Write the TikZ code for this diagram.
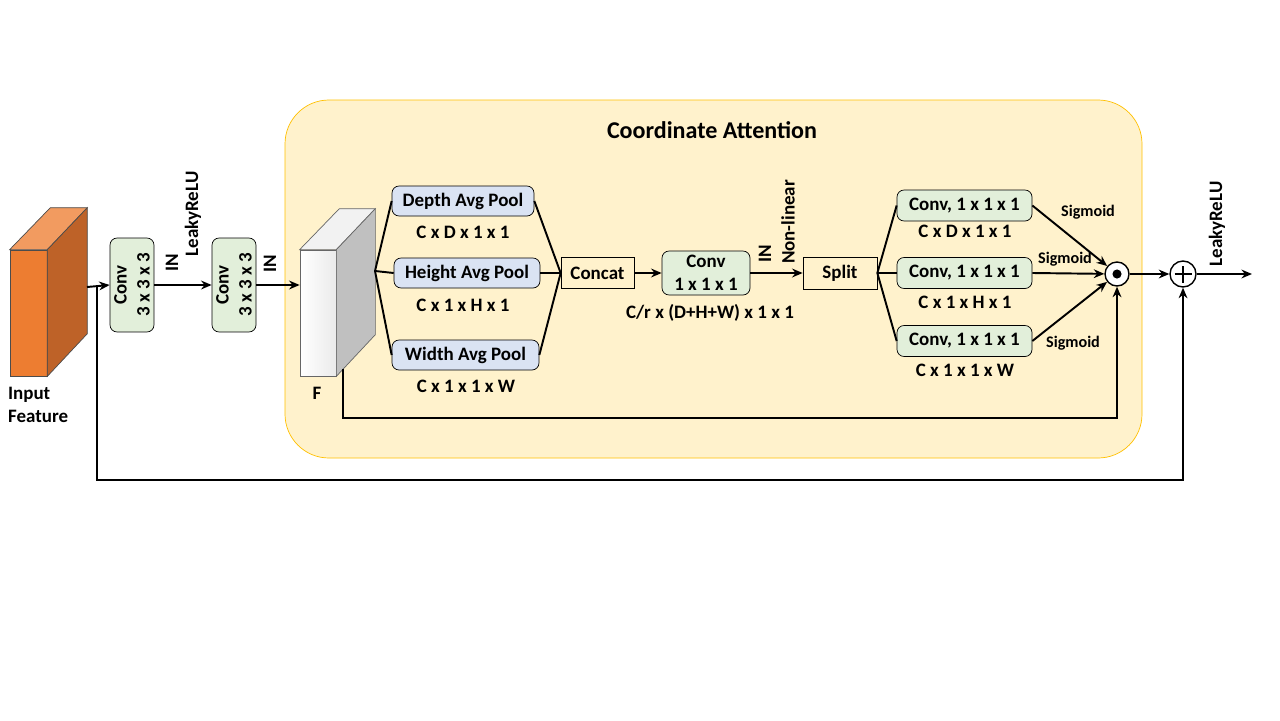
\documentclass[tikz,border=0pt]{standalone}
\usepackage{fontspec}
\setmainfont{Carlito}
\usetikzlibrary{positioning,calc,arrows.meta}
\definecolor{cabg}{HTML}{FFF2CC}
\definecolor{caedge}{HTML}{FFC000}
\definecolor{convgreen}{HTML}{E2EFDA}
\definecolor{poolblue}{HTML}{DAE3F3}
\definecolor{orfront}{HTML}{ED7D31}
\definecolor{ortop}{HTML}{F29B60}
\definecolor{orside}{HTML}{BE6228}
\definecolor{fside}{HTML}{C0C0C0}
\newcommand\PxUnit{0.02cm}
\newcommand\BodySize{\fontsize{10.8}{13}\selectfont}
\tikzset{
  convbox/.style={
    draw,
    rounded corners=4pt,
    fill=convgreen,
    font=\bfseries\BodySize,
    align=center,
    inner sep=1pt
  },
  poolbox/.style={
    draw,
    rounded corners=4pt,
    fill=poolblue,
    font=\bfseries\BodySize,
    inner sep=1pt
  },
  plainbox/.style={
    draw,
    fill=cabg,
    font=\bfseries\BodySize,
    inner sep=1pt
  },
  dims/.style={
    font=\bfseries\BodySize,
    inner sep=1pt
  },
  act/.style={
    font=\bfseries\BodySize,
    rotate=90,
    inner sep=1pt
  },
  sig/.style={
    font=\bfseries\fontsize{9.2}{11}\selectfont,
    inner sep=1pt
  },
  flow/.style={
    line width=1.1pt,
    -{Stealth[length=6pt,width=5pt]}
  },
  link/.style={
    line width=1.1pt
  },
  opcircle/.style={
    draw,
    circle,
    fill=white,
    line width=0.8pt,
    inner sep=0pt
  }
}

\begin{document}
\begin{tikzpicture}[x=\PxUnit,y=-\PxUnit]
    \useasboundingbox (0,0) rectangle (1280,720);

    % coordinate attention block
    \draw[caedge, fill=cabg, rounded corners=25pt] (285,100) rectangle (1142,458);
    \node[font=\bfseries\fontsize{13.7}{16}\selectfont] (title) at (712,130) {Coordinate Attention};

    % input feature cube
    \node[draw=black!70, fill=orfront, minimum width=0.74cm, minimum height=2.52cm, inner sep=0pt] (inp) at (28.5,313) {};
    \draw[black!70, fill=ortop] (inp.north west) -- (inp.north east) -- ++(40,-42) -- ++(-37,0) -- cycle;
    \draw[black!70, fill=orside] (inp.north east) -- ++(40,-42) -- ++(0,126) -- (inp.south east) -- cycle;
    \node[dims, anchor=west, align=left] (inplabel) at (6,405) {Input\\Feature};
    \coordinate (inpside) at (87,287);
    \coordinate (skip) at (97,287);

    \node[convbox, rotate=90, minimum width=1.88cm, minimum height=0.88cm] (conva) at (132,285) {Conv\\3 x 3 x 3};
    \node[convbox, rotate=90, minimum width=1.88cm, minimum height=0.88cm] (convb) at (234,285) {Conv\\3 x 3 x 3};
    \node[act] (ina) at (172,263) {IN};
    \node[act] (leakya) at (193,214) {LeakyReLU};
    \node[act] (inb) at (270,264) {IN};

    % feature map F
    \node[draw=black!60, left color=white, right color=black!8, minimum width=0.72cm, minimum height=2.52cm, inner sep=0pt] (fmap) at (318,313) {};
    \draw[black!60, fill=black!5] (fmap.north west) -- (fmap.north east) -- ++(39,-41) -- ++(-36,0) -- cycle;
    \draw[black!60, fill=fside] (fmap.north east) -- ++(39,-41) -- ++(0,126) -- (fmap.south east) -- cycle;
    \node[dims] (flabel) at (317,393) {F};
    \coordinate (fside) at (375,271);
    \coordinate (fres) at (343,369);

    % pooling branches
    \node[poolbox, minimum width=2.84cm, minimum height=0.6cm] (dpool) at (463,201) {Depth Avg Pool};
    \node[poolbox, minimum width=2.92cm, minimum height=0.6cm] (hpool) at (467,273) {Height Avg Pool};
    \node[poolbox, minimum width=2.94cm, minimum height=0.6cm] (wpool) at (465.5,355) {Width Avg Pool};
    \node[dims] (ddim) at (463,232) {C x D x 1 x 1};
    \node[dims] (hdim) at (463,305) {C x 1 x H x 1};
    \node[dims] (wdim) at (466,386) {C x 1 x 1 x W};

    \node[plainbox, minimum width=1.46cm, minimum height=0.62cm] (concat) at (597.5,273) {Concat};
    \node[convbox, minimum width=1.76cm, minimum height=0.88cm] (convc) at (706,273) {Conv\\1 x 1 x 1};
    \node[dims] (cdim) at (710,313) {C/r x (D+H+W) x 1 x 1};
    \node[act] (inc) at (765,254) {IN};
    \node[act] (nonlin) at (788,222) {Non-linear};
    \node[plainbox, minimum width=1.48cm, minimum height=0.64cm] (split) at (840,273) {Split};

    % attention branches
    \node[convbox, minimum width=2.7cm, minimum height=0.62cm] (cta) at (964.5,205.5) {Conv, 1 x 1 x 1};
    \node[convbox, minimum width=2.7cm, minimum height=0.62cm] (ctb) at (964.5,273) {Conv, 1 x 1 x 1};
    \node[convbox, minimum width=2.7cm, minimum height=0.62cm] (ctc) at (964.5,341) {Conv, 1 x 1 x 1};
    \node[dims] (tadim) at (965,231) {C x D x 1 x 1};
    \node[dims] (tbdim) at (965,302) {C x 1 x H x 1};
    \node[dims] (tcdim) at (965,370) {C x 1 x 1 x W};
    \node[sig] (siga) at (1088,212) {Sigmoid};
    \node[sig] (sigb) at (1065,259) {Sigmoid};
    \node[sig] (sigc) at (1073,343) {Sigmoid};

    \node[opcircle, minimum size=0.48cm] (dot) at (1117,274) {};
    \fill (dot.center) circle (2.6pt);
    \node[opcircle, minimum size=0.52cm] (plus) at (1183,274) {};
    \draw[line width=1.1pt] ([xshift=-0.17cm]plus.center) -- ([xshift=0.17cm]plus.center)
        ([yshift=-0.17cm]plus.center) -- ([yshift=0.17cm]plus.center);
    \node[act] (leakyb) at (1217,224) {LeakyReLU};
    \coordinate (outp) at (1252,274);

    % connectors
    \draw[flow] (inpside) -- (conva.north);
    \draw[flow] (conva.south) -- (convb.north);
    \draw[flow] (convb.south) -- (convb.south -| fmap.west);
    \draw[link] (fside) -- (dpool.west);
    \draw[link] (fside) -- (hpool.west);
    \draw[link] (fside) -- (wpool.west);
    \draw[link] (dpool.east) -- (concat.west);
    \draw[link] (hpool.east) -- (concat.west);
    \draw[link] (wpool.east) -- (concat.west);
    \draw[flow] (concat) -- (convc);
    \draw[flow] (convc) -- (split);
    \draw[link] (split.east) -- (cta.west);
    \draw[link] (split.east) -- (ctb.west);
    \draw[link] (split.east) -- (ctc.west);
    \draw[flow] (cta.east) -- (dot);
    \draw[flow] (ctb.east) -- (dot);
    \draw[flow] (ctc.east) -- (dot);
    \draw[flow] (dot) -- (plus);
    \draw[flow] (plus) -- (outp);
    \draw[flow] (fres) -- (343,418) -| (dot.south);
    \draw[flow] (skip) -- (97,480) -| (plus.south);
\end{tikzpicture}
\end{document}
